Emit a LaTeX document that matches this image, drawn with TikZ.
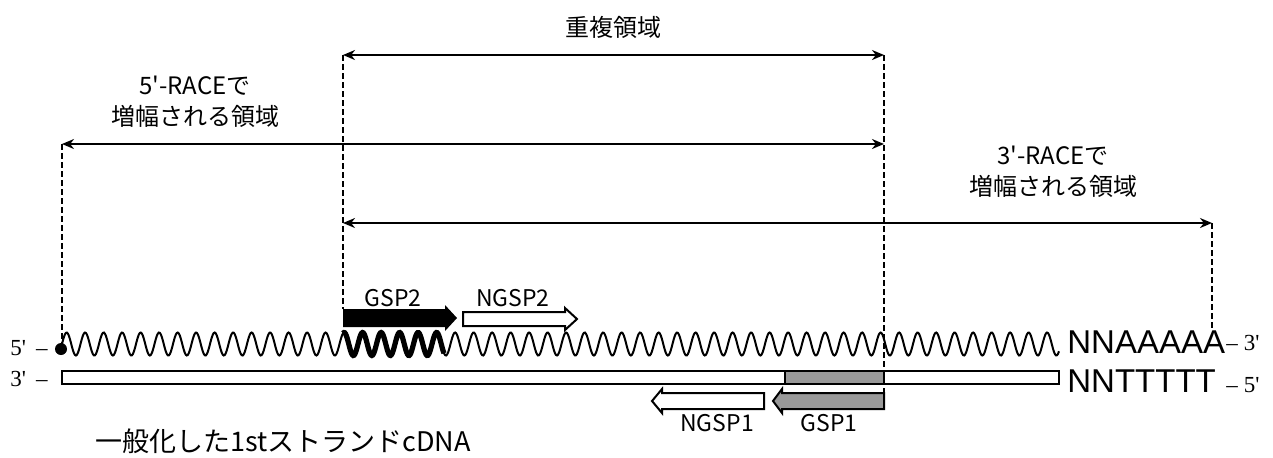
\documentclass[tikz,border=0pt]{standalone}
\usepackage{fontspec}
\newfontfamily\jpfont{Noto Sans CJK JP}
\newfontfamily\primefont{Liberation Serif}
\newfontfamily\basefont{Liberation Sans}
\usetikzlibrary{arrows.meta}
\definecolor{primgray}{RGB}{153,153,153}

\begin{document}
\begin{tikzpicture}[x=0.5pt,y=-0.5pt,
  span/.style={line width=1pt,{Stealth[length=6pt,width=5pt]}-{Stealth[length=6pt,width=5pt]}},
  guide/.style={line width=0.7pt,dash pattern=on 3pt off 1.5pt},
  note/.style={font=\jpfont\fontsize{12}{15.5}\selectfont,align=center,inner sep=0pt},
  prim/.style={font=\jpfont\fontsize{11.5}{14}\selectfont,inner sep=0pt},
  strand/.style={line width=1pt,fill=white},
  endlbl/.style={font=\primefont\fontsize{11.5}{13}\selectfont,inner sep=0pt},
  base/.style={font=\basefont\fontsize{16.5}{20}\selectfont,inner sep=0pt}]
\useasboundingbox (0,0) rectangle (1273,457);

\coordinate (A) at (62,144);
\coordinate (A1) at (62,344);
\coordinate (B) at (343,55);
\coordinate (B1) at (343,309);
\coordinate (B2) at (343,223);
\coordinate (C) at (884,55);
\coordinate (C1) at (884,393);
\coordinate (C2) at (884,144);
\coordinate (D) at (1212,223);
\coordinate (D1) at (1212,328);

% lower strand
\draw[strand] (62,371) rectangle (1059,384);
\draw[line width=1pt,fill=primgray] (785,371) rectangle (884,384);

% upper strand (one turn = 18.5)
\draw[line width=1pt] plot[domain=62:1059,samples=1000] (\x,{344-11.5*sin(19.459*mod(\x-62,18.5))});
\draw[line width=2.6pt] plot[domain=343:444,samples=120] (\x,{344-11.5*sin(19.459*mod(\x-62,18.5))});
\fill (61,349) circle (3pt);

% guides and spans
\draw[guide] (A) -- (A1);
\draw[guide] (B) -- (B1);
\draw[guide] (C) -- (C1);
\draw[guide] (D) -- (D1);
\draw[span] (B) -- (C);
\draw[span] (A) -- (C2);
\draw[span] (B2) -- (D);

\node[note] (ovl) at (613,27) {重複領域};
\node[note] (r5) at (195,102) {5'-RACEで\\増幅される領域};
\node[note] (r3) at (1053,172) {3'-RACEで\\増幅される領域};

% primers
\fill (343,309) -- (445,309) -- (445,305) -- (457,318) -- (445,331) -- (445,327) -- (343,327) -- cycle;
\draw[line width=1pt,fill=white] (463,312) -- (565,312) -- (565,308) -- (577,319) -- (565,330) -- (565,326) -- (463,326) -- cycle;
\draw[line width=1pt,fill=primgray] (884,393) -- (782,393) -- (782,389) -- (773,401) -- (782,413) -- (782,409) -- (884,409) -- cycle;
\draw[line width=1pt,fill=white] (764,393) -- (662,393) -- (662,389) -- (652,401) -- (662,413) -- (662,409) -- (764,409) -- cycle;

\node[prim] (gsp2) at (393,298) {GSP2};
\node[prim] (ngsp2) at (513,298) {NGSP2};
\node[prim] (ngsp1) at (717,423) {NGSP1};
\node[prim] (gsp1) at (829,423) {GSP1};

% ends
\node[endlbl,anchor=base west] (p5) at (10,355) {5'\hspace{5pt}–};
\node[endlbl,anchor=base west] (p3) at (10,386) {3'\hspace{5pt}–};
\node[base,anchor=base west] (polyA) at (1067,353) {NNAAAAA};
\node[endlbl,anchor=base west] (q3) at (1226,350) {–\hspace{3pt}3'};
\node[base,anchor=base west] (polyT) at (1067,392) {NNTTTTT};
\node[endlbl,anchor=base west] (q5) at (1226,392) {–\hspace{3pt}5'};

\node[font=\jpfont\fontsize{13.5}{16}\selectfont,inner sep=0pt] (title) at (283,441) {一般化した1stストランドcDNA};

\end{tikzpicture}
\end{document}
